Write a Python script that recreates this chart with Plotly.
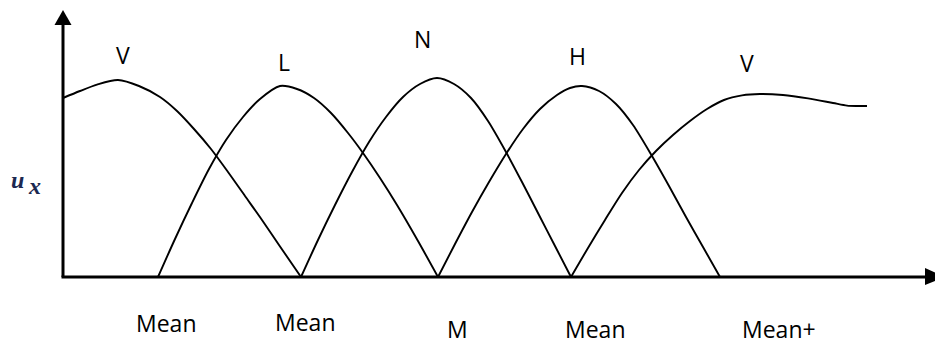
import plotly.graph_objects as go

# membership curves (x = position along the axis, y = membership degree)
v_low_x = [0, 17, 34, 55, 76, 97, 114, 131, 148, 165, 182, 199, 216, 238]
v_low_y = [0.895, 0.93, 0.962, 0.985, 0.955, 0.9, 0.83, 0.74, 0.64, 0.525, 0.405, 0.285, 0.16, 0]

l_x = [95, 112, 129, 146, 163, 180, 197, 217, 234, 251, 268, 285, 300, 317, 334, 355, 375]
l_y = [0, 0.19, 0.37, 0.54, 0.685, 0.8, 0.89, 0.955, 0.94, 0.895, 0.82, 0.72, 0.62, 0.495, 0.36, 0.18, 0]

n_x = [238, 255, 272, 289, 306, 323, 340, 357, 374, 391, 408, 425, 443, 459, 476, 492, 508]
n_y = [0, 0.185, 0.36, 0.525, 0.675, 0.8, 0.9, 0.965, 0.995, 0.965, 0.895, 0.78, 0.625, 0.475, 0.31, 0.155, 0]

h_x = [375, 392, 409, 426, 443, 460, 477, 494, 507, 519, 536, 553, 570, 589, 606, 623, 640, 657]
h_y = [0, 0.165, 0.325, 0.475, 0.615, 0.74, 0.84, 0.91, 0.945, 0.955, 0.93, 0.865, 0.76, 0.605, 0.455, 0.3, 0.15, 0]

v_high_x = [508, 525, 542, 559, 576, 593, 610, 627, 644, 661, 679, 697, 720, 745, 770, 784, 794, 804]
v_high_y = [0, 0.145, 0.285, 0.42, 0.535, 0.63, 0.71, 0.78, 0.84, 0.885, 0.908, 0.915, 0.91, 0.893, 0.87, 0.857, 0.855, 0.855]

# curve labels above the peaks
peak_labels = ["V", "L", "N", "H", "V"]
peak_label_x = [60, 221, 359, 514, 684]
peak_label_y = [1.11, 1.075, 1.19, 1.105, 1.07]

# labels under the x axis
bottom_labels = ["Mean", "Mean", "M", "Mean", "Mean+"]
bottom_label_x = [103, 242, 394, 532, 716]
bottom_label_y = [-0.23, -0.225, -0.26, -0.26, -0.26]

fig = go.Figure()
for xs, ys in [(v_low_x, v_low_y), (l_x, l_y), (n_x, n_y), (h_x, h_y), (v_high_x, v_high_y)]:
    fig.add_trace(go.Scatter(x=xs, y=ys, mode='lines',
                             line=dict(color='black', width=1.9, shape='spline', smoothing=0.8),
                             hoverinfo='skip', showlegend=False))

txt_font = dict(family="Open Sans, Lato, sans-serif", size=23, color="black")
for t, x, y in zip(peak_labels, peak_label_x, peak_label_y):
    fig.add_annotation(x=x, y=y, text=t, showarrow=False, font=txt_font)
for t, x, y in zip(bottom_labels, bottom_label_x, bottom_label_y):
    fig.add_annotation(x=x, y=y, text=t, showarrow=False, font=txt_font)

# y-axis label u_x (subscript drawn as its own lowered letter)
ux_font = dict(family="Liberation Serif, serif", size=24, color="#1c2951")
fig.add_annotation(x=-46, y=0.485, text="<b><i>u</i></b>", showarrow=False, font=ux_font)
fig.add_annotation(x=-29, y=0.455, text="<b><i>x</i></b>", showarrow=False, font=ux_font)

# axes with arrow heads
axis_shapes = [
    dict(type='line', x0=0, y0=0, x1=0, y1=1.28, line=dict(color='black', width=3)),
    dict(type='path', path="M -8.5,1.26 L 8.5,1.26 L 0,1.335 Z", fillcolor='black', line=dict(width=0)),
    dict(type='line', x0=-1.5, y0=0, x1=866, y1=0, line=dict(color='black', width=3)),
    dict(type='path', path="M 862,0.045 L 862,-0.04 L 882,0 Z", fillcolor='black', line=dict(width=0)),
]
fig.update_layout(
    shapes=axis_shapes,
    width=935, height=340,
    margin=dict(l=0, r=0, t=0, b=0),
    plot_bgcolor='white', paper_bgcolor='white',
    xaxis=dict(range=[-63, 872], visible=False, fixedrange=True),
    yaxis=dict(range=[-0.315, 1.385], visible=False, fixedrange=True),
)

fig.write_html("out.html", config=dict(displayModeBar=False),
               post_script="document.body.style.margin='0';document.body.style.overflow='hidden';")
